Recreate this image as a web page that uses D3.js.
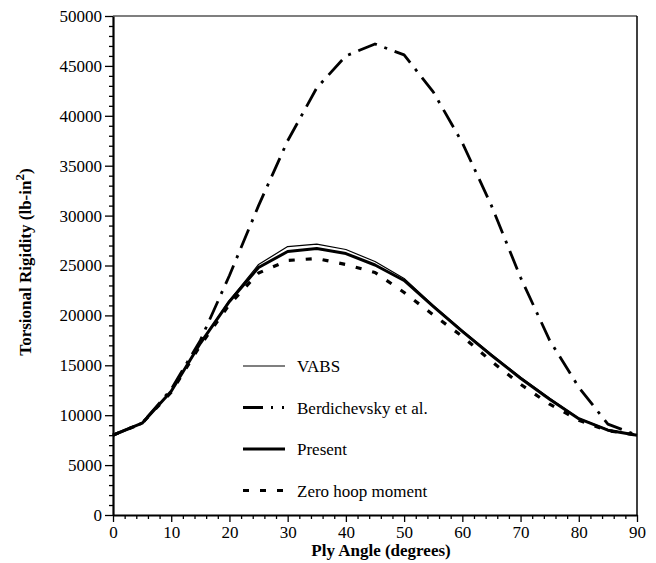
<!DOCTYPE html>
<html>
<head>
<meta charset="utf-8">
<script src="https://cdn.jsdelivr.net/npm/d3@7"></script>
<style>
  body { margin: 0; background: #fff; }
  text { font-family: "Liberation Serif", "Times New Roman", serif; }
</style>
</head>
<body>
<div id="chart"></div>
<script>
// ply angle in degrees
var angles = [0, 5, 10, 15, 20, 25, 30, 35, 40, 45, 50, 55, 60, 65, 70, 75, 80, 85, 90];
// torsional rigidity, lb-in^2
var vabs = [8000, 9200, 12400, 17200, 21500, 25100, 26900, 27150, 26600, 25400, 23700, 21000, 18500, 16100, 13800, 11700, 9700, 8550, 8000];
var berdichevsky = [8000, 9200, 12600, 17500, 24000, 31000, 37500, 42800, 46000, 47200, 46100, 42400, 37300, 31000, 23800, 17500, 12800, 9100, 8000];
var present = [8000, 9200, 12400, 17200, 21400, 24800, 26400, 26700, 26200, 25050, 23500, 20900, 18400, 16000, 13700, 11600, 9650, 8500, 8000];
var zeroHoop = [8000, 9200, 12300, 17000, 21100, 24250, 25500, 25700, 25100, 24300, 22300, 20050, 17900, 15400, 13100, 11100, 9500, 8450, 8000];

var xTicks = [0, 10, 20, 30, 40, 50, 60, 70, 80, 90];
var yTicks = [0, 5000, 10000, 15000, 20000, 25000, 30000, 35000, 40000, 45000, 50000];
var legendLabels = ["VABS", "Berdichevsky et al.", "Present", "Zero hoop moment"];

var svgWidth = 656, svgHeight = 563;
var plotLeft = 113, plotRight = 637, plotTop = 16, plotBottom = 515;

var svg = d3.select("#chart").append("svg")
    .attr("width", svgWidth)
    .attr("height", svgHeight);

var x = d3.scaleLinear().domain([0, 90]).range([plotLeft, plotRight]);
var y = d3.scaleLinear().domain([0, 50000]).range([plotBottom, plotTop]);

// frame top and right
svg.append("line").attr("x1", plotLeft).attr("x2", plotRight).attr("y1", plotTop).attr("y2", plotTop)
    .attr("stroke", "#000").attr("stroke-width", 1.2);
svg.append("line").attr("x1", plotRight).attr("x2", plotRight).attr("y1", plotTop).attr("y2", plotBottom)
    .attr("stroke", "#000").attr("stroke-width", 1.5);

// minor ticks
var xMinor = d3.range(0, 91, 2).filter(d => d % 10 != 0);
var yMinor = d3.range(0, 50001, 1000).filter(d => d % 5000 != 0);

svg.append("g").attr("transform", `translate(0, ${plotBottom})`)
    .call(d3.axisBottom(x).tickValues(xMinor).tickSize(4).tickFormat(""))
    .call(g => g.select(".domain").remove());
svg.append("g").attr("transform", `translate(${plotLeft}, 0)`)
    .call(d3.axisLeft(y).tickValues(yMinor).tickSize(4).tickFormat(""))
    .call(g => g.select(".domain").remove());

var xAxis = svg.append("g").attr("transform", `translate(0, ${plotBottom})`)
    .call(d3.axisBottom(x).tickValues(xTicks).tickSize(7).tickSizeOuter(0).tickPadding(4));
var yAxis = svg.append("g").attr("transform", `translate(${plotLeft}, 0)`)
    .call(d3.axisLeft(y).tickValues(yTicks).tickFormat(d3.format("d"))
        .tickSize(8).tickSizeOuter(0).tickPadding(3));

svg.selectAll(".tick line").attr("stroke-width", 1.3);
xAxis.select(".domain").attr("stroke-width", 2.2);
yAxis.select(".domain").attr("stroke-width", 2.2);
svg.selectAll(".tick text")
    .style("font-family", "'Liberation Serif', serif")
    .style("font-size", "17px")
    .attr("fill", "#000");

// series
var series = [
    { name: legendLabels[0], values: vabs, width: 1.2, dash: null },
    { name: legendLabels[1], values: berdichevsky, width: 2.8, dash: "20,8,3,8" },
    { name: legendLabels[2], values: present, width: 3, dash: null },
    { name: legendLabels[3], values: zeroHoop, width: 3.2, dash: "6,11" }
];

var line = d3.line()
    .x(d => x(d[0]))
    .y(d => y(d[1]));

svg.selectAll("path.series").data(series).enter()
    .append("path")
    .attr("class", "series")
    .attr("d", d => line(angles.map((a, i) => [a, d.values[i]])))
    .attr("fill", "none")
    .attr("stroke", "#000")
    .attr("stroke-width", d => d.width)
    .attr("stroke-dasharray", d => d.dash)
    .attr("stroke-linejoin", "round");

// legend
var legendDash = [null, "20,8,2,9,2,20", null, "6,11"];
var legend = svg.append("g").attr("transform", "translate(243, 366)");
legend.selectAll("line").data(series).enter()
    .append("line")
    .attr("x1", 0).attr("x2", 42)
    .attr("y1", (d, i) => i * 41.5).attr("y2", (d, i) => i * 41.5)
    .attr("stroke", "#000")
    .attr("stroke-width", d => d.width)
    .attr("stroke-dasharray", (d, i) => legendDash[i]);
legend.selectAll("text").data(series).enter()
    .append("text")
    .attr("x", 54)
    .attr("y", (d, i) => i * 41.5 + 6)
    .style("font-size", "17px")
    .text(d => d.name);

// axis titles
svg.append("text")
    .attr("x", 381).attr("y", 556)
    .attr("text-anchor", "middle")
    .style("font-weight", "bold")
    .style("font-size", "17px")
    .text("Ply Angle (degrees)");

var yTitle = svg.append("text")
    .attr("transform", "translate(31, 262) rotate(-90)")
    .attr("text-anchor", "middle")
    .style("font-weight", "bold")
    .style("font-size", "17px");
yTitle.append("tspan").text("Torsional Rigidity (lb-in");
yTitle.append("tspan").attr("dy", -7).style("font-size", "13px").text("2");
yTitle.append("tspan").attr("dy", 7).text(")");
</script>
</body>
</html>
